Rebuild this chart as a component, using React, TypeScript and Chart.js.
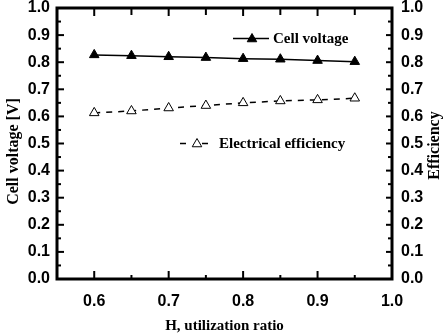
import React, { useEffect, useRef } from "react";
import { Chart, registerables } from "chart.js";

Chart.register(...registerables);

// H2 utilization ratio (x) and the two measured series
const UTILIZATION = [0.6, 0.65, 0.7, 0.75, 0.8, 0.85, 0.9, 0.95];
const CELL_VOLTAGE = [0.827, 0.824, 0.82, 0.817, 0.813, 0.811, 0.806, 0.802];
const ELECTRICAL_EFFICIENCY = [0.613, 0.62, 0.631, 0.64, 0.65, 0.657, 0.661, 0.667];

// Axis ticks
const X_MAJOR_TICKS = [0.6, 0.7, 0.8, 0.9, 1.0];
const X_MINOR_TICKS = [0.65, 0.75, 0.85, 0.95];
const Y_MAJOR_TICKS = [0, 0.1, 0.2, 0.3, 0.4, 0.5, 0.6, 0.7, 0.8, 0.9, 1.0];
const Y_MINOR_TICKS = [0.05, 0.15, 0.25, 0.35, 0.45, 0.55, 0.65, 0.75, 0.85, 0.95];

const X_TITLE = "H, utilization ratio";
const Y_LEFT_TITLE = "Cell voltage [V]";
const Y_RIGHT_TITLE = "Efficiency";
const LEGEND_VOLTAGE = "Cell voltage";
const LEGEND_EFFICIENCY = "Electrical efficiency";

const SANS = "'Liberation Sans', Arial, sans-serif";
const SERIF = "'Liberation Serif', 'Times New Roman', serif";

const tickFont = { family: SANS, size: 16, weight: "bold" as const, lineHeight: 1 };

// Frame, inward tick marks, rotated titles and the in-plot legend
const framePlugin = {
  id: "frame",
  afterDraw(chart: any) {
    const ctx: CanvasRenderingContext2D = chart.ctx;
    const { left, right, top, bottom } = chart.chartArea;
    const xs = chart.scales.x;
    const ys = chart.scales.y;
    ctx.save();
    ctx.strokeStyle = "#000";
    ctx.lineCap = "butt";

    // tick marks
    ctx.lineWidth = 2;
    const vTick = (px: number, len: number, fromTop: boolean) => {
      ctx.beginPath();
      if (fromTop) {
        ctx.moveTo(px, top);
        ctx.lineTo(px, top + len);
      } else {
        ctx.moveTo(px, bottom);
        ctx.lineTo(px, bottom - len);
      }
      ctx.stroke();
    };
    const hTick = (py: number, len: number, fromLeft: boolean) => {
      ctx.beginPath();
      if (fromLeft) {
        ctx.moveTo(left, py);
        ctx.lineTo(left + len, py);
      } else {
        ctx.moveTo(right, py);
        ctx.lineTo(right - len, py);
      }
      ctx.stroke();
    };
    X_MAJOR_TICKS.forEach((v) => {
      const px = xs.getPixelForValue(v);
      vTick(px, 8, false);
      vTick(px, 8, true);
    });
    X_MINOR_TICKS.forEach((v) => {
      const px = xs.getPixelForValue(v);
      vTick(px, 4, false);
      vTick(px, 7, true);
    });
    Y_MAJOR_TICKS.forEach((v) => {
      const py = ys.getPixelForValue(v);
      hTick(py, 7, true);
      hTick(py, 6, false);
    });
    Y_MINOR_TICKS.forEach((v) => {
      const py = ys.getPixelForValue(v);
      hTick(py, 4, true);
      hTick(py, 4, false);
    });

    // frame
    ctx.lineWidth = 3;
    ctx.strokeRect(left, top, right - left, bottom - top);

    // rotated axis titles (both read bottom-to-top)
    ctx.fillStyle = "#000";
    ctx.font = `bold 16px ${SERIF}`;
    ctx.textAlign = "center";
    ctx.textBaseline = "middle";
    const midY = (top + bottom) / 2;
    ctx.save();
    ctx.translate(14, midY + 8);
    ctx.rotate(-Math.PI / 2);
    ctx.fillText(Y_LEFT_TITLE, 0, 0);
    ctx.restore();
    ctx.save();
    ctx.translate(chart.width - 13, midY + 2);
    ctx.rotate(-Math.PI / 2);
    ctx.fillText(Y_RIGHT_TITLE, 0, 0);
    ctx.restore();

    // legend entries
    const drawTri = (cx: number, cy: number, r: number, filled: boolean) => {
      ctx.beginPath();
      let rad = 0;
      ctx.moveTo(cx + Math.sin(rad) * r, cy - Math.cos(rad) * r);
      rad += (2 * Math.PI) / 3;
      ctx.lineTo(cx + Math.sin(rad) * r, cy - Math.cos(rad) * r);
      rad += (2 * Math.PI) / 3;
      ctx.lineTo(cx + Math.sin(rad) * r, cy - Math.cos(rad) * r);
      ctx.closePath();
      ctx.fillStyle = filled ? "#000" : "#fff";
      ctx.fill();
      ctx.lineWidth = 1;
      ctx.strokeStyle = "#000";
      ctx.stroke();
    };
    ctx.textAlign = "left";
    ctx.font = `bold 15px ${SERIF}`;

    // Cell voltage entry
    ctx.lineWidth = 1.5;
    ctx.beginPath();
    ctx.moveTo(233, 38.5);
    ctx.lineTo(269, 38.5);
    ctx.stroke();
    drawTri(252, 39, 5.5, true);
    ctx.fillStyle = "#000";
    ctx.fillText(LEGEND_VOLTAGE, 273, 39);

    // Electrical efficiency entry
    ctx.lineWidth = 1.5;
    ctx.beginPath();
    ctx.moveTo(180, 143.5);
    ctx.lineTo(186, 143.5);
    ctx.moveTo(202, 143.5);
    ctx.lineTo(208, 143.5);
    ctx.stroke();
    drawTri(197, 144, 5.5, false);
    ctx.fillStyle = "#000";
    ctx.fillText(LEGEND_EFFICIENCY, 219, 144);

    ctx.restore();
  },
};

// Fixed box for a vertical axis: width and the room it asks for above the plot
const fitVertical = (width: number) => (s: any) => {
  s.width = width;
  s.paddingTop = 8;
  s.paddingBottom = 8;
};

export default function App() {
  const canvasRef = useRef<HTMLCanvasElement | null>(null);

  useEffect(() => {
    if (!canvasRef.current) return;
    const chart = new Chart(canvasRef.current, {
      type: "line",
      data: {
        datasets: [
          {
            label: LEGEND_VOLTAGE,
            data: UTILIZATION.map((x, i) => ({ x, y: CELL_VOLTAGE[i] })),
            yAxisID: "y",
            borderColor: "#000",
            borderWidth: 1.5,
            pointStyle: "triangle",
            pointRadius: 5.5,
            pointBackgroundColor: "#000",
            pointBorderColor: "#000",
            pointBorderWidth: 1,
            tension: 0,
          },
          {
            label: LEGEND_EFFICIENCY,
            data: UTILIZATION.map((x, i) => ({ x, y: ELECTRICAL_EFFICIENCY[i] })),
            yAxisID: "y2",
            borderColor: "#000",
            borderWidth: 1.5,
            borderDash: [6, 6],
            pointStyle: "triangle",
            pointRadius: 5.5,
            pointBackgroundColor: "#fff",
            pointBorderColor: "#000",
            pointBorderWidth: 1,
            tension: 0,
          },
        ],
      },
      options: {
        responsive: false,
        animation: false,
        devicePixelRatio: 1,
        layout: { padding: { top: 0, left: 0, right: 0, bottom: 0 } },
        plugins: {
          legend: { display: false },
          tooltip: { enabled: false },
        },
        scales: {
          x: {
            type: "linear",
            min: 0.55,
            max: 1.0,
            afterBuildTicks: (s: any) => {
              s.ticks = X_MAJOR_TICKS.map((value) => ({ value }));
            },
            afterFit: (s: any) => {
              s.height = 57;
            },
            grid: { display: false, drawTicks: false },
            border: { display: false },
            ticks: {
              font: tickFont,
              color: "#000",
              padding: 15,
              maxRotation: 0,
              callback: (v: any) => Number(v).toFixed(1),
            },
            title: {
              display: true,
              text: X_TITLE,
              color: "#000",
              font: { family: SERIF, size: 15, weight: "bold" },
              padding: { top: 0, bottom: 1 },
            },
          },
          y: {
            type: "linear",
            position: "left",
            min: 0,
            max: 1,
            afterBuildTicks: (s: any) => {
              s.ticks = Y_MAJOR_TICKS.map((value) => ({ value }));
            },
            afterFit: fitVertical(57),
            grid: { display: false, drawTicks: false },
            border: { display: false },
            ticks: {
              font: tickFont,
              color: "#000",
              padding: 7,
              callback: (v: any) => Number(v).toFixed(1),
            },
          },
          y2: {
            type: "linear",
            position: "right",
            min: 0,
            max: 1,
            afterBuildTicks: (s: any) => {
              s.ticks = Y_MAJOR_TICKS.map((value) => ({ value }));
            },
            afterFit: fitVertical(56),
            grid: { display: false, drawTicks: false },
            border: { display: false },
            ticks: {
              font: tickFont,
              color: "#000",
              padding: 9,
              callback: (v: any) => Number(v).toFixed(1),
            },
          },
        },
      },
      plugins: [framePlugin],
    });
    return () => chart.destroy();
  }, []);

  return (
    <div style={{ position: "fixed", left: 0, top: 0, width: 448, height: 336, background: "#fff" }}>
      <canvas ref={canvasRef} width={448} height={336} />
    </div>
  );
}
